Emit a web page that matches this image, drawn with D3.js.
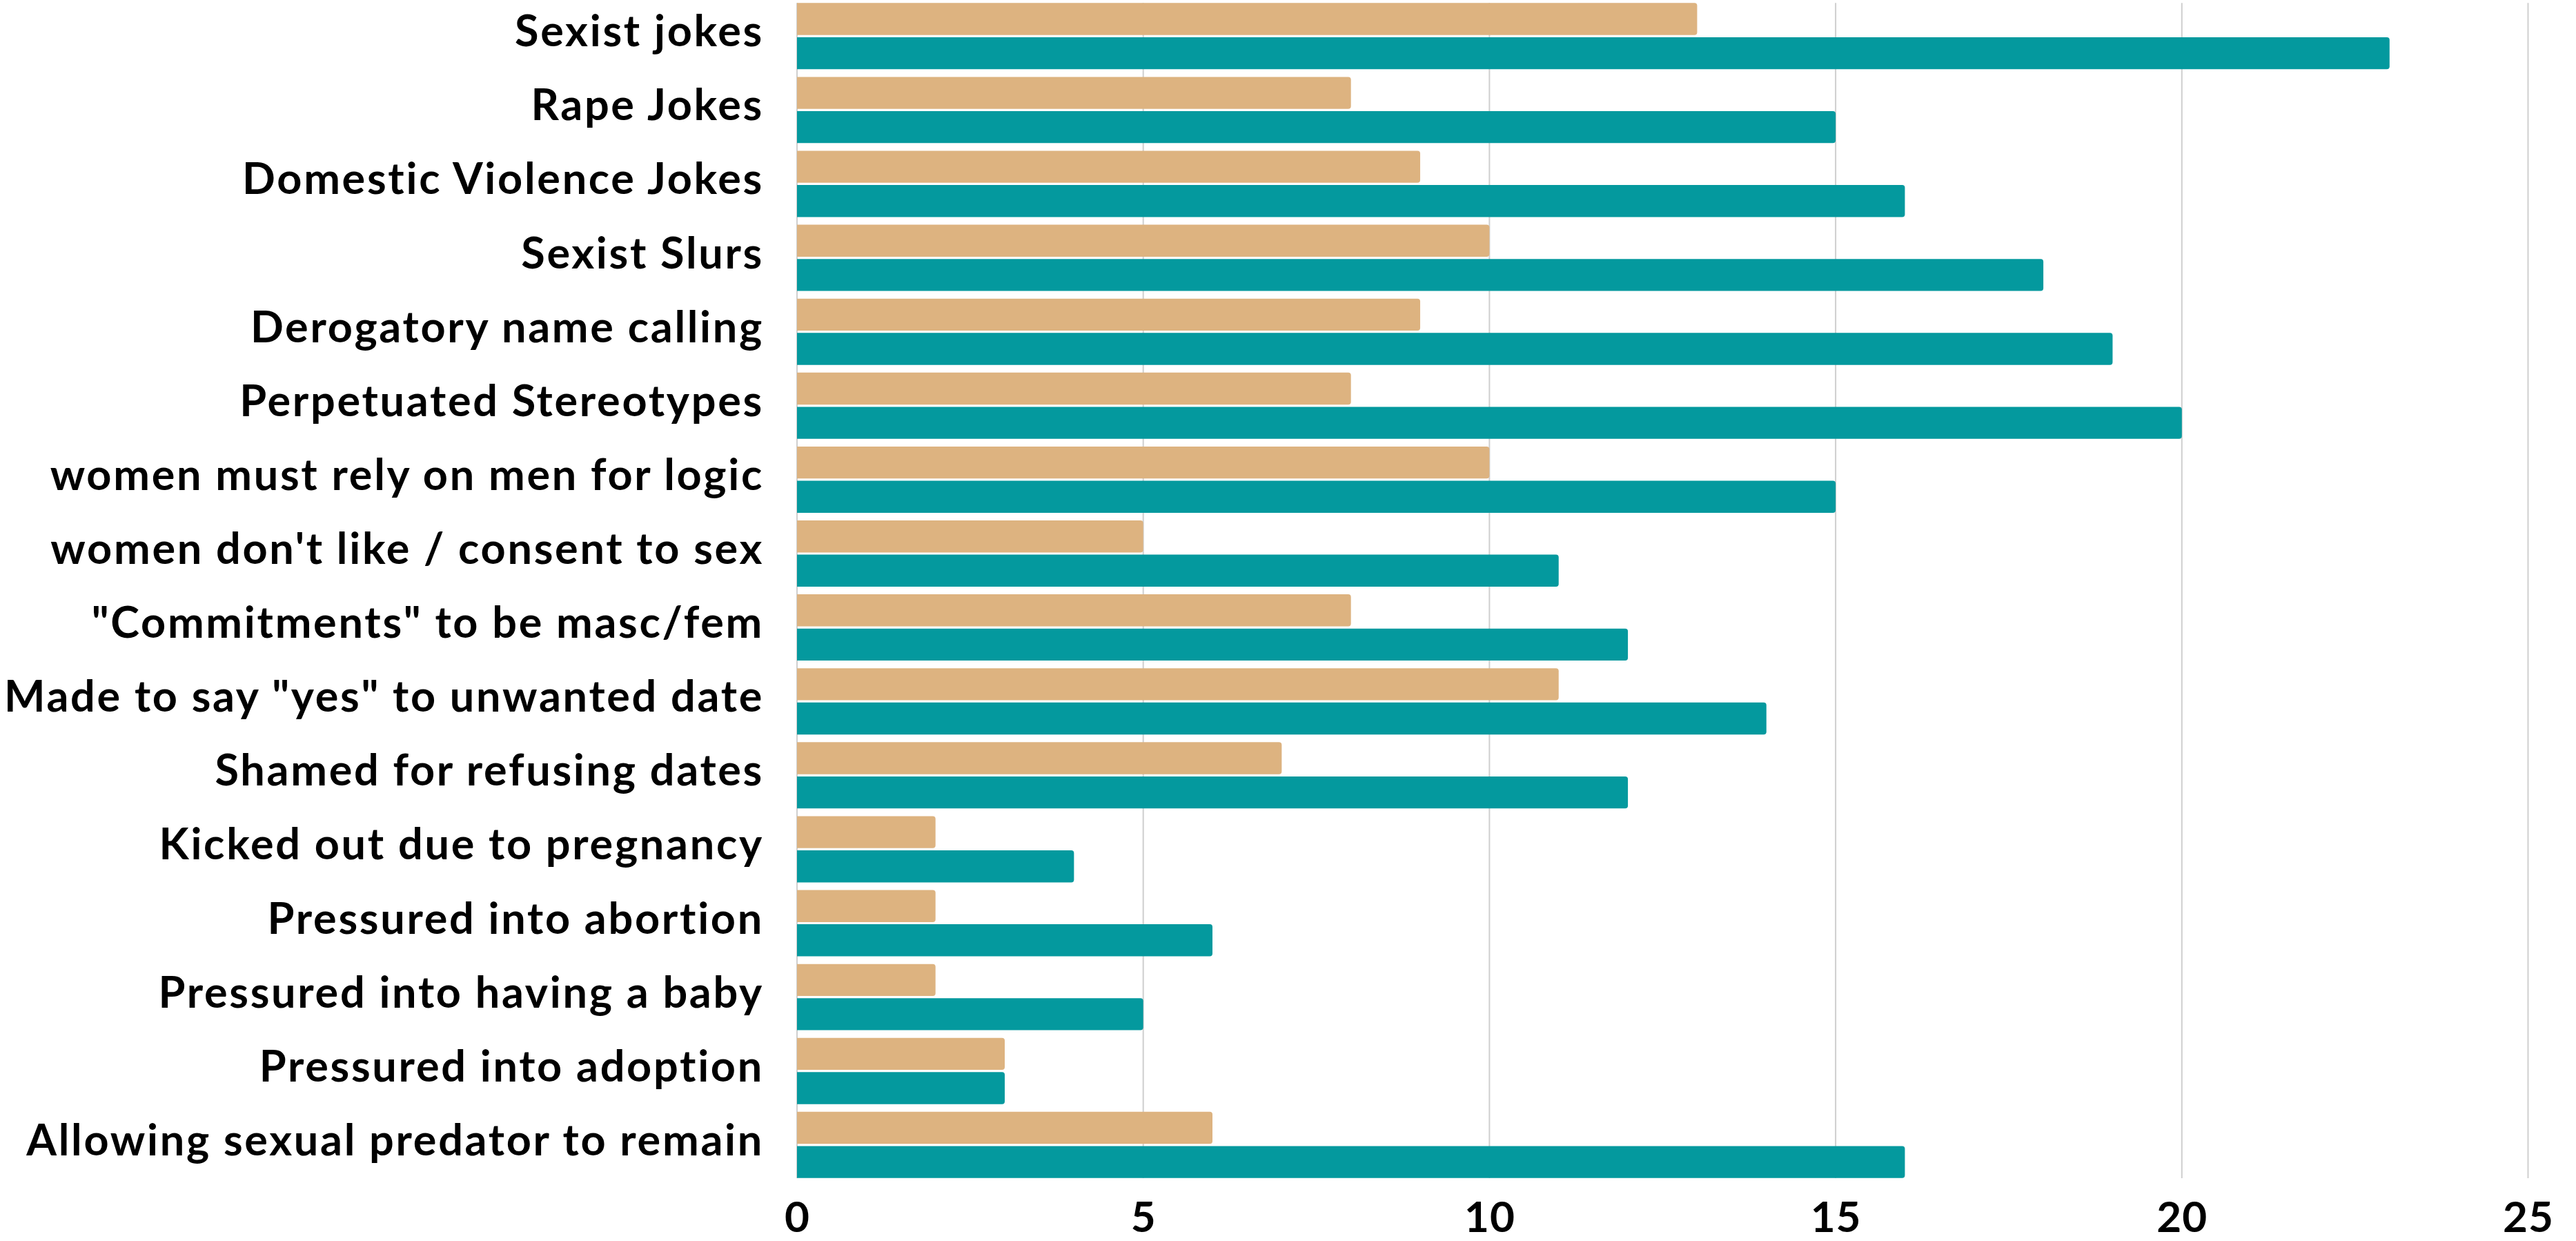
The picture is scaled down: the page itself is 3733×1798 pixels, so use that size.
<!DOCTYPE html>
<html>
<head>
<meta charset="utf-8">
<script src="https://cdn.jsdelivr.net/npm/d3@7"></script>
<style>
  html, body { margin: 0; padding: 0; background: #fff; }
  svg { display: block; }
  text { font-family: Lato, "Open Sans", sans-serif; font-weight: 700; fill: #000; font-variant-ligatures: none; }
</style>
</head>
<body>
<svg id="chart" width="3733" height="1798"></svg>
<script>
const categories = [
  "Sexist jokes",
  "Rape Jokes",
  "Domestic Violence Jokes",
  "Sexist Slurs",
  "Derogatory name calling",
  "Perpetuated Stereotypes",
  "women must rely on men for logic",
  "women don't like / consent to sex",
  "\"Commitments\" to be masc/fem",
  "Made to say \"yes\" to unwanted date",
  "Shamed for refusing dates",
  "Kicked out due to pregnancy",
  "Pressured into abortion",
  "Pressured into having a baby",
  "Pressured into adoption",
  "Allowing sexual predator to remain"
];
const seriesNames = ["Series 1", "Series 2"];
const series1 = [13, 8, 9, 10, 9, 8, 10, 5, 8, 11, 7, 2, 2, 2, 3, 6];
const series2 = [23, 15, 16, 18, 19, 20, 15, 11, 12, 14, 12, 4, 6, 5, 3, 16];
const tickValues = [0, 5, 10, 15, 20, 25];
const colors = ["#DDB380", "#04999E"];

const data = categories.map((c, i) => ({ cat: c, values: [series1[i], series2[i]] }));

const svg = d3.select("#chart");

const x = d3.scaleLinear().domain([0, 25]).range([1155, 3663.5]);
const y = d3.scaleBand().domain(categories).range([4.3, 1706.8]).paddingInner(0.104).paddingOuter(0);
const y1 = d3.scaleBand().domain([0, 1]).range([0, y.bandwidth()]).paddingInner(0.065);

// gridlines
svg.append("g")
  .selectAll("line")
  .data(tickValues)
  .join("line")
  .attr("x1", d => x(d)).attr("x2", d => x(d))
  .attr("y1", 4.3).attr("y2", 1707)
  .attr("stroke", "#cfcfcf")
  .attr("stroke-width", 2);

function barPath(x0, x1, y0, h, r) {
  const w = x1 - x0;
  r = Math.min(r, w / 2, h / 2);
  return `M${x0},${y0}H${x1 - r}Q${x1},${y0} ${x1},${y0 + r}V${y0 + h - r}Q${x1},${y0 + h} ${x1 - r},${y0 + h}H${x0}Z`;
}

const groups = svg.append("g")
  .selectAll("g")
  .data(data)
  .join("g")
  .attr("transform", d => `translate(0,${y(d.cat)})`);

groups.selectAll("path")
  .data(d => d.values.map((v, k) => ({ v, k })))
  .join("path")
  .attr("d", d => barPath(x(0), x(d.v), y1(d.k), y1.bandwidth(), 4))
  .attr("fill", d => colors[d.k]);

// category labels
svg.append("g")
  .selectAll("text")
  .data(categories)
  .join("text")
  .attr("x", 1107)
  .attr("y", d => y(d) + y.bandwidth() / 2 + 15)
  .attr("text-anchor", "end")
  .attr("font-size", 63)
  .attr("letter-spacing", 2.7)
  .text(d => d);

// x axis
const xAxis = d3.axisBottom(x).tickValues(tickValues).tickSize(0).tickPadding(0);
const ax = svg.append("g").attr("transform", "translate(0,1740)").call(xAxis);
ax.select(".domain").remove();
ax.selectAll("text")
  .attr("dy", 0)
  .attr("y", 45)
  .attr("font-size", 62)
  .attr("letter-spacing", 1)
  .style("font-family", "Lato, 'Open Sans', sans-serif")
  .style("font-weight", 700)
  .attr("fill", "#000");
</script>
</body>
</html>
